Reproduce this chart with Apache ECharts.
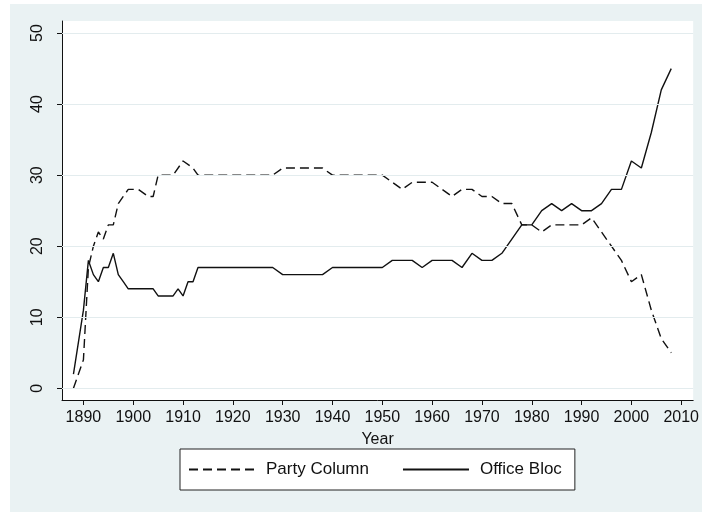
<!DOCTYPE html>
<html>
<head>
<meta charset="utf-8">
<script src="https://cdn.jsdelivr.net/npm/echarts@6/dist/echarts.min.js"></script>
<style>
  html, body { margin: 0; padding: 0; background: #fff; }
  #bg { position: absolute; left: 10px; top: 4px; width: 692px; height: 508px; background: #eaf2f3; }
  #main { position: absolute; left: 0; top: 0; width: 702px; height: 512px; }
</style>
</head>
<body>
<div id="bg"></div>
<div id="main"></div>
<script>
// tick labels
const xTicks = [1890, 1900, 1910, 1920, 1930, 1940, 1950, 1960, 1970, 1980, 1990, 2000, 2010]
const yTicks = [0, 10, 20, 30, 40, 50]

// Party Column (dashed)
const partyYears = [1888, 1890, 1891, 1892, 1893, 1894, 1895, 1896, 1897, 1898,
    1899, 1901, 1903, 1904, 1905, 1908, 1910, 1912, 1913, 1928,
    1930, 1938, 1940, 1950, 1952, 1954, 1956, 1960, 1962, 1964,
    1966, 1968, 1970, 1972, 1974, 1976, 1978, 1980, 1982, 1984,
    1990, 1992, 1996, 1998, 2000, 2002, 2004, 2006, 2008]
const partyValues = [0, 4, 17, 20, 22, 21, 23, 23, 26, 27,
    28, 28, 27, 27, 30, 30, 32, 31, 30, 30,
    31, 31, 30, 30, 29, 28, 29, 29, 28, 27,
    28, 28, 27, 27, 26, 26, 23, 23, 22, 23,
    23, 24, 20, 18, 15, 16, 11, 7, 5]

// Office Bloc (solid)
const officeYears = [1888, 1890, 1891, 1892, 1893, 1894, 1895, 1896, 1897, 1898,
    1899, 1904, 1905, 1908, 1909, 1910, 1911, 1912, 1913, 1928,
    1930, 1938, 1940, 1950, 1952, 1956, 1958, 1960, 1964, 1966,
    1968, 1970, 1972, 1974, 1978, 1980, 1982, 1984, 1986, 1988,
    1990, 1992, 1994, 1996, 1998, 2000, 2002, 2004, 2006, 2008]
const officeValues = [2, 11, 18, 16, 15, 17, 17, 19, 16, 15,
    14, 14, 13, 13, 14, 13, 15, 15, 17, 17,
    16, 16, 17, 17, 18, 18, 17, 18, 18, 17,
    19, 18, 18, 19, 23, 23, 25, 26, 25, 26,
    25, 25, 26, 28, 28, 32, 31, 36, 42, 45]

const font = 'Liberation Sans, Arial, Helvetica, sans-serif'
const ink = '#111'

function pairs(xs, ys) {
    return xs.map((x, i) => [x, ys[i]])
}

let myChart = echarts.init(document.getElementById('main'))
let option = {
    animation: false,
    backgroundColor: 'transparent',
    textStyle: { fontFamily: font },
    grid: {
        left: 62, top: 21, right: 6, bottom: 112,
        show: true, backgroundColor: '#fff', borderWidth: 0
    },
    legend: {
        data: ['Party Column', 'Office Bloc'],
        left: 180,
        top: 449,
        orient: 'horizontal',
        backgroundColor: '#fff',
        borderColor: '#222',
        borderWidth: 1,
        borderRadius: 0,
        padding: [12, 13, 12, 8],
        itemGap: 33,
        itemWidth: 66,
        itemHeight: 14,
        selectedMode: false,
        itemStyle: { opacity: 0 },
        textStyle: { fontFamily: font, fontSize: 17, color: ink, padding: [0, 0, 0, 6] }
    },
    xAxis: {
        type: 'value',
        min: 1885.7,
        max: 2012.4,
        name: 'Year',
        nameLocation: 'middle',
        nameGap: 32,
        nameTextStyle: { fontFamily: font, fontSize: 16, color: ink },
        axisLine: { show: true, onZero: false, lineStyle: { color: ink, width: 1 } },
        axisTick: { show: true, length: 5, customValues: xTicks, lineStyle: { color: ink } },
        axisLabel: {
            customValues: xTicks, margin: 10,
            formatter: v => String(v),
            fontFamily: font, fontSize: 16, color: ink
        },
        splitLine: { show: false }
    },
    yAxis: {
        type: 'value',
        min: -1.65,
        max: 51.7,
        axisLine: { show: true, onZero: false, lineStyle: { color: ink, width: 1 } },
        axisTick: { show: true, length: 5, customValues: yTicks, lineStyle: { color: ink } },
        axisLabel: {
            customValues: yTicks, rotate: 90, margin: 16,
            fontFamily: font, fontSize: 16, color: ink
        },
        splitLine: { show: false }
    },
    series: [
        {
            name: 'grid',
            type: 'line',
            data: [],
            z: 1,
            silent: true,
            markLine: {
                silent: true,
                symbol: ['none', 'none'],
                label: { show: false },
                lineStyle: { color: '#e3ecee', width: 1.2, type: 'solid' },
                data: yTicks.map(v => ({ yAxis: v }))
            }
        },
        {
            name: 'Party Column',
            type: 'line',
            z: 3,
            data: pairs(partyYears, partyValues),
            showSymbol: false,
            symbol: 'none',
            color: ink,
            lineStyle: { color: ink, width: 1.4, type: [9, 5] }
        },
        {
            name: 'Office Bloc',
            type: 'line',
            z: 3,
            data: pairs(officeYears, officeValues),
            showSymbol: false,
            symbol: 'none',
            color: ink,
            lineStyle: { color: ink, width: 1.4, type: 'solid' }
        }
    ]
}

myChart.setOption(option)
</script>
</body>
</html>
